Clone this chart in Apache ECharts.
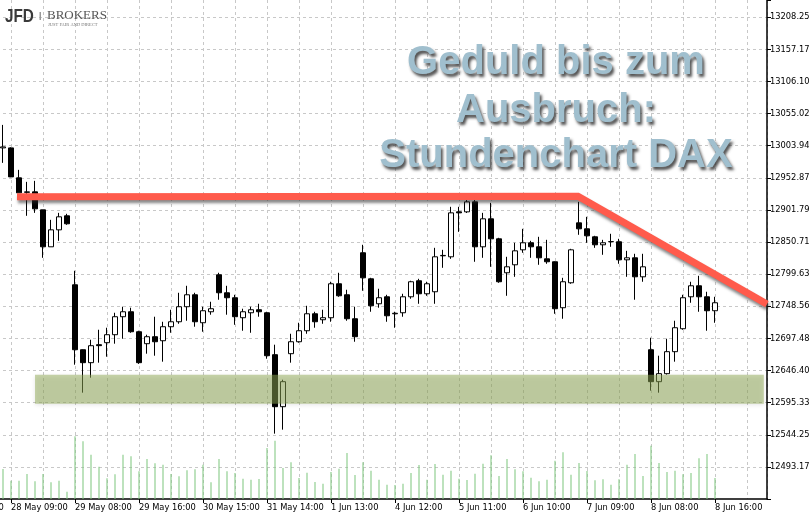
<!DOCTYPE html>
<html><head><meta charset="utf-8">
<script src="https://cdn.jsdelivr.net/npm/echarts@6/dist/echarts.min.js"></script>
<style>html,body{margin:0;padding:0;background:#fff}#c{width:809px;height:518px}</style>
</head><body><div id="c"></div>
<script>
// ---- categories (hourly bars 08:00-16:00) ----
const leadDay = '25 May';
const leadHours = ['10:00','11:00','12:00','13:00','14:00','15:00','16:00'];
const days = ['28 May','29 May','30 May','31 May','1 Jun','4 Jun','5 Jun','6 Jun','7 Jun','8 Jun'];
const hours = ['08:00','09:00','10:00','11:00','12:00','13:00','14:00','15:00','16:00'];
const trailDay = '11 Jun';
const trailHours = ['08:00','09:00','10:00','11:00','12:00','13:00'];

// ---- OHLC (one value per hourly bar, 28 May 08:00 .. 8 Jun 16:00) ----
const opens = [13000.5,13000.5,12952.9,12929.8,12930.6,12902.0,12843.2,12870.2,12892.5,
12782.8,12679.5,12658.9,12687.5,12690.7,12703.4,12732.0,12739.9,12708.1,
12689.1,12700.2,12693.8,12716.1,12724.0,12747.9,12766.9,12722.4,12739.9,
12798.7,12770.1,12762.2,12730.4,12738.3,12743.1,12738.3,12671.6,12588.9,
12673.2,12692.2,12709.7,12736.7,12727.2,12730.4,12784.4,12766.9,12728.8,
12833.7,12792.3,12752.6,12763.7,12736.7,12738.3,12763.7,12789.2,12768.5,
12771.7,12828.9,12827.3,12898.8,12898.8,12914.7,12843.2,12887.7,12855.9,
12801.9,12814.6,12838.4,12849.6,12843.2,12824.1,12819.4,12746.3,12786.0,
12881.3,12871.8,12859.1,12846.4,12851.2,12851.2,12822.5,12825.7,12795.5,
12679.5,12628.7,12641.4,12676.4,12712.9,12763.7,12781.2,12763.7,12741.5];
const highs = [13037.1,13001.5,12965.6,12946.5,12948.1,12902.0,12886.1,12897.2,12895.7,
12805.1,12680.0,12695.4,12711.3,12714.5,12738.3,12747.9,12746.3,12709.7,
12703.4,12732.0,12724.0,12743.1,12770.1,12781.2,12770.1,12747.9,12755.8,
12801.9,12781.2,12766.9,12744.7,12747.9,12752.6,12739.9,12687.5,12631.8,
12704.9,12722.4,12749.4,12739.9,12743.1,12787.6,12801.9,12774.9,12747.9,
12846.4,12793.9,12776.5,12766.9,12739.9,12768.5,12789.2,12792.3,12787.6,
12841.6,12838.4,12906.8,12906.8,12927.4,12924.3,12897.2,12913.1,12857.5,
12827.3,12849.6,12871.8,12852.7,12859.1,12854.3,12820.0,12793.9,12840.0,
12914.7,12890.9,12860.7,12854.3,12863.9,12855.9,12836.8,12832.1,12832.1,
12698.6,12670.0,12697.0,12725.6,12766.9,12787.6,12797.1,12771.7,12763.7];
const lows = [12976.7,12954.0,12929.0,12892.5,12897.2,12825.7,12843.2,12852.7,12878.2,
12655.7,12611.2,12635.0,12658.9,12668.4,12689.1,12697.0,12706.5,12657.0,
12673.2,12670.0,12660.5,12706.5,12720.8,12725.6,12716.1,12708.1,12735.2,
12759.0,12735.2,12719.2,12709.7,12706.5,12732.0,12665.2,12546.0,12552.4,
12658.9,12690.7,12704.9,12714.5,12720.8,12724.0,12763.7,12725.6,12692.2,
12773.3,12739.9,12746.3,12724.0,12714.5,12732.0,12760.6,12752.6,12765.3,
12752.6,12809.8,12824.1,12867.0,12897.0,12819.4,12825.7,12811.4,12786.0,
12765.3,12795.5,12833.7,12825.7,12814.6,12816.2,12736.7,12728.8,12784.4,
12862.3,12849.6,12841.6,12830.5,12843.2,12816.2,12795.5,12759.0,12787.6,
12614.4,12611.2,12640.0,12660.5,12711.3,12754.2,12739.9,12709.7,12722.4];
const closes = [13002.1,12954.4,12929.0,12930.6,12903.6,12843.2,12870.2,12890.9,12879.8,
12679.5,12658.9,12685.9,12686.0,12703.4,12732.0,12739.9,12708.1,12658.9,
12700.2,12692.2,12716.1,12724.0,12747.9,12766.9,12724.0,12741.5,12744.7,
12770.1,12762.2,12732.0,12739.9,12743.1,12739.9,12670.0,12588.9,12628.7,
12692.2,12709.7,12736.7,12724.0,12730.4,12784.4,12765.3,12728.8,12700.2,
12793.9,12749.4,12762.2,12733.5,12737.5,12763.7,12787.6,12768.5,12784.4,
12827.3,12829.5,12897.2,12897.2,12914.7,12843.2,12887.7,12855.9,12787.6,
12811.4,12836.8,12849.6,12843.2,12825.7,12819.4,12744.7,12787.6,12838.4,
12871.8,12860.7,12846.4,12849.6,12851.5,12822.5,12825.7,12795.5,12811.4,
12628.7,12641.4,12676.4,12714.5,12762.2,12781.2,12763.7,12741.5,12754.2];
// tick volume per bar
const volumes = [900,550,550,750,530,750,500,550,220,
1880,1730,1330,970,620,740,1330,1280,830,
1200,1070,1030,750,680,860,890,1030,500,
1200,830,780,610,580,600,1530,1750,930,
1100,630,790,510,460,810,910,1380,720,
1100,850,580,430,420,460,780,1020,580,
1050,730,850,610,570,760,1060,1310,690,
1200,890,830,640,530,580,1150,1400,730,
1080,840,560,590,430,590,1030,1350,690,
1600,1080,810,850,740,780,1220,1350,630];

// y-axis tick labels
const yTickLabels = ['12493.17','12544.25','12595.33','12646.40','12697.48','12748.56','12799.63',
'12850.71','12901.79','12952.87','13003.94','13055.02','13106.10','13157.17','13208.25'];

// annotations (bar index in the 28 May 08:00-based count, price)
const trendIdx = [1.75, 71.875, 95.5];
const trendPrice = [12922.7, 12923.5, 12752.0];
const zoneIdx = [4.0, 95.1];
const zonePrice = [12639.8, 12593.7];

const titleLines = ['Geduld bis zum', 'Ausbruch:', 'Stundenchart DAX'];

// ---- build ----
const categories = [];
leadHours.forEach(h => categories.push(leadDay + ' ' + h));
days.forEach(d => hours.forEach(h => categories.push(d + ' ' + h)));
trailHours.forEach(h => categories.push(trailDay + ' ' + h));
const LEAD = leadHours.length;
const N = categories.length;

const candleData = opens.map((o, i) => [i + LEAD, o, closes[i], lows[i], highs[i]]);
const volData = volumes.map((v, i) => [i + LEAD, v]);
const trendData = trendIdx.map((x, i) => [x + LEAD, trendPrice[i]]);
const zoneData = [[zoneIdx[0] + LEAD, zoneIdx[1] + LEAD, zonePrice[0], zonePrice[1]]];

const yTickVals = yTickLabels.map(Number);
const Y_STEP = (yTickVals[yTickVals.length - 1] - yTickVals[0]) / (yTickVals.length - 1);
const Y_MIN = yTickVals[0] - Y_STEP;
const Y_MAX = 13235.74;

const BAR = 8;
const G_LEFT = -1 - LEAD * BAR;
const G_W = N * BAR;
const labelShow = (idx) => (idx - LEAD - 1) % 8 === 0 && idx <= LEAD + 89;
const axisFont = {fontFamily: 'DejaVu Sans', fontSize: 8.3, color: '#000'};
const gridBase = {outerBoundsMode: 'none', containLabel: false, show: false};

const chart = echarts.init(document.getElementById('c'), null, {renderer: 'canvas'});
chart.setOption({
  animation: false,
  backgroundColor: '#fff',
  grid: [
    Object.assign({left: G_LEFT, top: 0, width: G_W, height: 499}, gridBase),
    Object.assign({left: G_LEFT + BAR / 2, top: 0, width: G_W - BAR / 2, height: 499}, gridBase),
    Object.assign({left: G_LEFT, top: 399, width: G_W, height: 100}, gridBase)
  ],
  xAxis: [
    {type: 'category', gridIndex: 0, data: categories, boundaryGap: true,
     axisLine: {show: true, lineStyle: {color: '#000', width: 1.5}},
     axisTick: {show: true, alignWithLabel: true, interval: (i) => labelShow(i), length: 4, lineStyle: {color: '#000'}},
     axisLabel: Object.assign({interval: (i) => labelShow(i), align: 'left', margin: 5, hideOverlap: false}, axisFont),
     splitLine: {show: false}},
    {type: 'value', gridIndex: 1, min: 0, max: N - 0.5, interval: 4, show: true,
     axisLine: {show: false}, axisTick: {show: false}, axisLabel: {show: false},
     splitLine: {show: true, lineStyle: {color: '#c8c8c8', type: [3, 3], width: 1}}},
    {type: 'category', gridIndex: 2, data: categories, boundaryGap: true, show: false}
  ],
  yAxis: [
    {type: 'value', gridIndex: 0, position: 'right', min: Y_MIN, max: Y_MAX, interval: Y_STEP,
     axisLine: {show: true, lineStyle: {color: '#000', width: 1.5}},
     axisTick: {show: true, length: 4, lineStyle: {color: '#000'}},
     axisLabel: Object.assign({margin: 3, formatter: (v) => {
        const k = yTickVals.findIndex(t => Math.abs(t - v) < 1);
        return k >= 0 ? yTickLabels[k] : '';
     }}, axisFont),
     splitLine: {show: true, showMinLine: false, showMaxLine: false, lineStyle: {color: '#c8c8c8', type: [3, 3], width: 1}}},
    {type: 'value', gridIndex: 1, min: Y_MIN, max: Y_MAX, show: false, splitLine: {show: false}},
    {type: 'value', gridIndex: 2, min: 0, max: 3000, show: false, splitLine: {show: false}}
  ],
  series: [
    {type: 'bar', xAxisIndex: 2, yAxisIndex: 2, data: volData, barWidth: 1, silent: true,
     itemStyle: {color: '#7cc67c'}, z: 1},
    {type: 'candlestick', xAxisIndex: 0, yAxisIndex: 0, data: candleData,
     encode: {x: 0, y: [1, 2, 3, 4]}, barWidth: 5, silent: true, z: 3,
     itemStyle: {color: '#fff', color0: '#000', borderColor: '#000', borderColor0: '#000', borderWidth: 1}},
    {type: 'custom', xAxisIndex: 1, yAxisIndex: 1, data: zoneData, silent: true, z: 4, clip: true,
     renderItem: (params, api) => {
       const p0 = api.coord([api.value(0), api.value(2)]);
       const p1 = api.coord([api.value(1), api.value(3)]);
       return {type: 'rect', shape: {x: p0[0], y: p0[1], width: p1[0] - p0[0], height: p1[1] - p0[1]},
         style: {fill: 'rgba(145,172,85,0.5)', shadowBlur: 4, shadowColor: 'rgba(0,0,0,0.2)', shadowOffsetY: 1}};
     }},
    {type: 'line', xAxisIndex: 1, yAxisIndex: 1, data: trendData, symbol: 'none', silent: true, z: 5,
     lineStyle: {color: '#ff5b4c', width: 7, cap: 'butt', join: 'miter',
       shadowColor: 'rgba(40,40,40,0.55)', shadowBlur: 3, shadowOffsetX: 1, shadowOffsetY: 3}}
  ],
  graphic: [
    ...titleLines.map((t, i) => ({
      type: 'text', x: 556, y: [63, 111, 156][i], z: 20, silent: true,
      style: {text: t, fill: '#a0bfce', font: 'bold 40px "Liberation Sans", Arial, sans-serif',
        textAlign: 'center', textVerticalAlign: 'middle',
        textShadowColor: 'rgba(50,50,50,0.85)', textShadowBlur: 3, textShadowOffsetX: 2, textShadowOffsetY: 3,
        shadowColor: 'rgba(50,50,50,0.85)', shadowBlur: 3, shadowOffsetX: 2, shadowOffsetY: 3}
    })),
    {type: 'text', x: 5, y: 8, z: 20, silent: true, scaleX: 0.85,
     style: {text: 'JFD', fill: '#3a3a3a', font: 'bold 18px "Liberation Sans", Arial, sans-serif'}},
    {type: 'rect', x: 39.5, y: 12, z: 20, silent: true, shape: {width: 1.5, height: 8}, style: {fill: '#999'}},
    {type: 'text', x: 47, y: 9, z: 20, silent: true,
     style: {text: 'BROKERS', fill: '#555', font: '13px "Liberation Serif", "Times New Roman", serif'}},
    {type: 'text', x: 48, y: 22, z: 20, silent: true,
     style: {text: 'JUST FAIR AND DIRECT', fill: '#777', font: '4.5px "Liberation Serif", serif'}}
  ]
});
</script>
</body></html>
